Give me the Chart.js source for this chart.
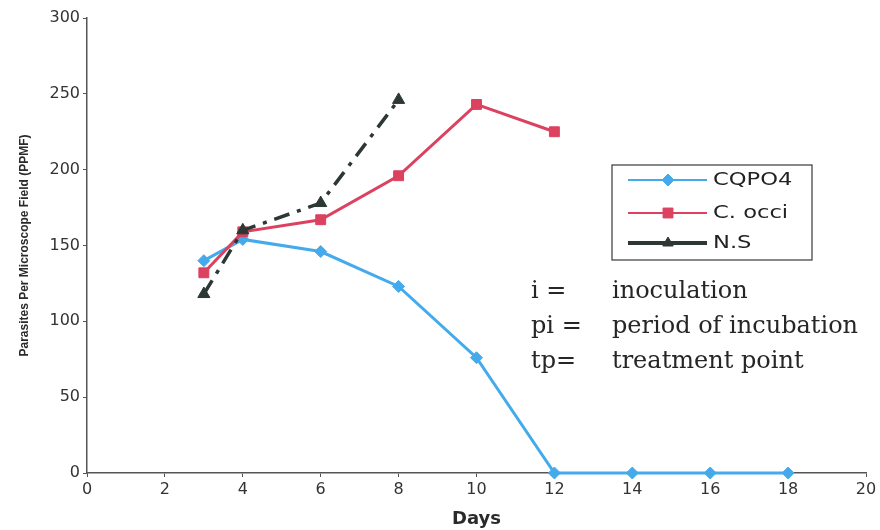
<!DOCTYPE html>
<html>
<head>
<meta charset="utf-8">
<script src="https://cdn.jsdelivr.net/npm/chart.js@4"></script>
<style>
  html, body { margin: 0; padding: 0; background: #ffffff; }
  #wrap { width: 880px; height: 530px; }
</style>
</head>
<body>
<div id="wrap"><canvas id="chart" width="880" height="530"></canvas></div>
<script>
// Parasite counts per microscope field, by day
const cqpo4Days = [3, 4, 6, 8, 10, 12, 14, 16, 18];
const cqpo4Values = [140, 154, 146, 123, 76, 0, 0, 0, 0];

const occiDays = [3, 4, 6, 8, 10, 12];
const occiValues = [132, 159, 167, 196, 243, 225];

const nsDays = [3, 4, 6, 8];
const nsValues = [118, 160, 178, 246];

const seriesNames = ['CQPO4', 'C. occi', 'N.S'];
const keyLines = [
  ['i =', 'inoculation'],
  ['pi =', 'period of incubation'],
  ['tp=', 'treatment point']
];

const xTitle = 'Days';
const yTitle = 'Parasites Per Microscope Field (PPMF)';

const BLUE = '#45aaec';
const RED = '#dc4160';
const DARK = '#2e3833';

const toPoints = (xs, ys) => xs.map((x, i) => ({ x: x, y: ys[i] }));

// Boxed legend and the abbreviation key drawn onto the canvas
const overlayPlugin = {
  id: 'overlay',
  afterDraw(chart) {
    const ctx = chart.ctx;
    ctx.save();

    // legend box
    const bx = 612, by = 165, bw = 200, bh = 95;
    ctx.fillStyle = '#ffffff';
    ctx.fillRect(bx, by, bw, bh);
    ctx.strokeStyle = '#3a3a3a';
    ctx.lineWidth = 1.2;
    ctx.strokeRect(bx, by, bw, bh);

    const rows = [180, 213, 243];
    const keyRadius = [6, 7, 6];
    chart.data.datasets.forEach((ds, i) => {
      const y = rows[i];
      ctx.beginPath();
      ctx.strokeStyle = ds.borderColor;
      ctx.lineWidth = i === 2 ? 4 : 2;
      ctx.setLineDash([]);
      ctx.moveTo(628, y);
      ctx.lineTo(707, y);
      ctx.stroke();
      ctx.fillStyle = ds.backgroundColor;
      ctx.strokeStyle = ds.borderColor;
      ctx.lineWidth = 1;
      Chart.helpers.drawPoint(ctx, {
        pointStyle: ds.pointStyle,
        radius: keyRadius[i],
        borderWidth: 1
      }, 668, y);

      ctx.save();
      ctx.translate(713, y);
      ctx.scale(1.33, 1);
      ctx.fillStyle = '#222222';
      ctx.font = '17px "DejaVu Sans", sans-serif';
      ctx.textBaseline = 'middle';
      ctx.textAlign = 'left';
      ctx.fillText(seriesNames[i], 0, 1);
      ctx.restore();
    });

    // abbreviation key
    ctx.fillStyle = '#262626';
    ctx.font = '24px "DejaVu Serif", serif';
    ctx.textBaseline = 'alphabetic';
    ctx.textAlign = 'left';
    const baselines = [298, 333, 368];
    keyLines.forEach((pair, i) => {
      ctx.fillText(pair[0], 531, baselines[i]);
      ctx.fillText(pair[1], 612, baselines[i]);
    });

    ctx.restore();
  }
};

new Chart(document.getElementById('chart'), {
  type: 'line',
  data: {
    datasets: [
      {
        label: seriesNames[0],
        data: toPoints(cqpo4Days, cqpo4Values),
        borderColor: BLUE,
        backgroundColor: BLUE,
        borderWidth: 3,
        pointStyle: 'rectRot',
        pointRadius: 6,
        pointBorderWidth: 1,
        order: 2
      },
      {
        label: seriesNames[1],
        data: toPoints(occiDays, occiValues),
        borderColor: RED,
        backgroundColor: RED,
        borderWidth: 3,
        pointStyle: 'rect',
        pointRadius: 7,
        pointBorderWidth: 1,
        order: 1
      },
      {
        label: seriesNames[2],
        data: toPoints(nsDays, nsValues),
        borderColor: DARK,
        backgroundColor: DARK,
        borderWidth: 3.5,
        borderDash: [16, 8, 4, 8],
        pointStyle: 'triangle',
        pointRadius: 7,
        pointBorderWidth: 1,
        order: 0
      }
    ]
  },
  options: {
    responsive: false,
    animation: false,
    clip: false,
    layout: { padding: { top: 18, right: 14, left: 0, bottom: 0 } },
    plugins: {
      legend: { display: false },
      tooltip: { enabled: false }
    },
    scales: {
      x: {
        type: 'linear',
        min: 0,
        max: 20,
        offset: false,
        afterFit(scale) { scale.height = 57; },
        ticks: {
          stepSize: 2,
          color: '#333333',
          padding: 3,
          maxRotation: 0,
          font: { family: '"DejaVu Sans", sans-serif', size: 16 }
        },
        grid: { drawOnChartArea: false, drawTicks: true, tickLength: 4, color: '#555555' },
        border: { color: '#555555', width: 1.5 },
        title: {
          display: true,
          text: xTitle,
          color: '#2a2a2a',
          padding: { top: 0, bottom: 0 },
          font: { family: '"DejaVu Sans", sans-serif', size: 18, weight: 'bold' }
        }
      },
      y: {
        min: 0,
        max: 300,
        afterFit(scale) { scale.width = 87; },
        ticks: {
          stepSize: 50,
          color: '#333333',
          padding: 3,
          font: { family: '"DejaVu Sans", sans-serif', size: 16 }
        },
        grid: { drawOnChartArea: false, drawTicks: true, tickLength: 4, color: '#555555' },
        border: { color: '#555555', width: 1.5 },
        title: {
          display: true,
          text: yTitle,
          color: '#2a2a2a',
          padding: { top: 17, bottom: 0 },
          font: { family: '"Liberation Sans Narrow", "Liberation Sans", sans-serif', size: 12, weight: 'bold' }
        }
      }
    }
  },
  plugins: [overlayPlugin]
});
</script>
</body>
</html>
